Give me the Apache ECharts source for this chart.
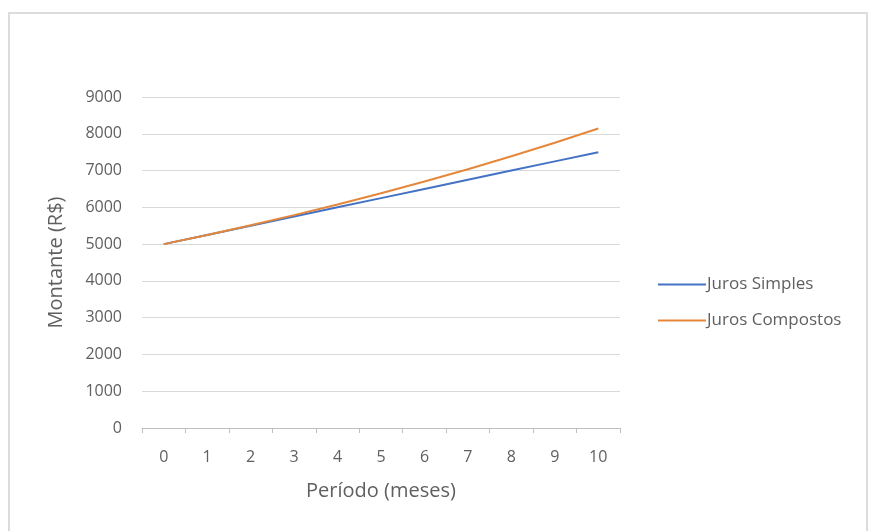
<!DOCTYPE html>
<html>
<head>
<meta charset="utf-8">
<script src="https://cdn.jsdelivr.net/npm/echarts@6/dist/echarts.min.js"></script>
<style>html,body{margin:0;padding:0;background:#fff}#c{width:872px;height:531px}</style>
</head>
<body>
<div id="c"></div>
<script>
const periods = ['0','1','2','3','4','5','6','7','8','9','10'];
const jurosSimples = [5000,5250,5500,5750,6000,6250,6500,6750,7000,7250,7500];
const jurosCompostos = [5000,5250,5512.5,5788.13,6077.53,6381.41,6700.48,7035.50,7387.28,7756.64,8144.47];
const seriesNames = ['Juros Simples','Juros Compostos'];
const xAxisName = 'Período (meses)';
const yAxisName = 'Montante (R$)';

const font = 'Open Sans';
const txt = '#5f5f5f';
const chart = echarts.init(document.getElementById('c'));
chart.setOption({
  animation: false,
  backgroundColor: '#fff',
  graphic: [{
    type: 'rect', shape: {x: 9, y: 13, width: 858, height: 530},
    style: {fill: 'none', stroke: '#dcdcdc', lineWidth: 2}, silent: true
  }],
  grid: {left: 142, right: 252, top: 97, bottom: 103},
  legend: {
    orient: 'vertical', left: 653, top: 271, itemGap: 19,
    itemWidth: 48, itemHeight: 2, icon: 'rect',
    textStyle: {fontFamily: font, fontSize: 17, color: txt, padding: [0,0,0,-4]},
    data: seriesNames
  },
  xAxis: {
    type: 'category', data: periods, boundaryGap: true,
    name: xAxisName, nameLocation: 'middle', nameGap: 53,
    nameTextStyle: {fontFamily: font, fontSize: 20, color: txt},
    axisLine: {lineStyle: {color: '#bfbfbf'}},
    axisTick: {show: true, alignWithLabel: false, lineStyle: {color: '#bfbfbf'}, length: 5},
    axisLabel: {fontFamily: font, fontSize: 16, color: txt, margin: 21}
  },
  yAxis: {
    type: 'value', min: 0, max: 9000, interval: 1000,
    name: yAxisName, nameLocation: 'middle', nameGap: 76,
    nameTextStyle: {fontFamily: font, fontSize: 20, color: txt},
    axisLine: {show: false}, axisTick: {show: false},
    axisLabel: {fontFamily: font, fontSize: 16, color: txt, margin: 20, formatter: v => String(v)},
    splitLine: {lineStyle: {color: '#d9d9d9'}}
  },
  series: [
    {name: seriesNames[0], type: 'line', data: jurosSimples, showSymbol: false,
     lineStyle: {color: '#4472c4', width: 2}, itemStyle: {color: '#4472c4'}},
    {name: seriesNames[1], type: 'line', data: jurosCompostos, showSymbol: false,
     lineStyle: {color: '#e5873a', width: 2}, itemStyle: {color: '#e5873a'}}
  ]
});
</script>
</body>
</html>
